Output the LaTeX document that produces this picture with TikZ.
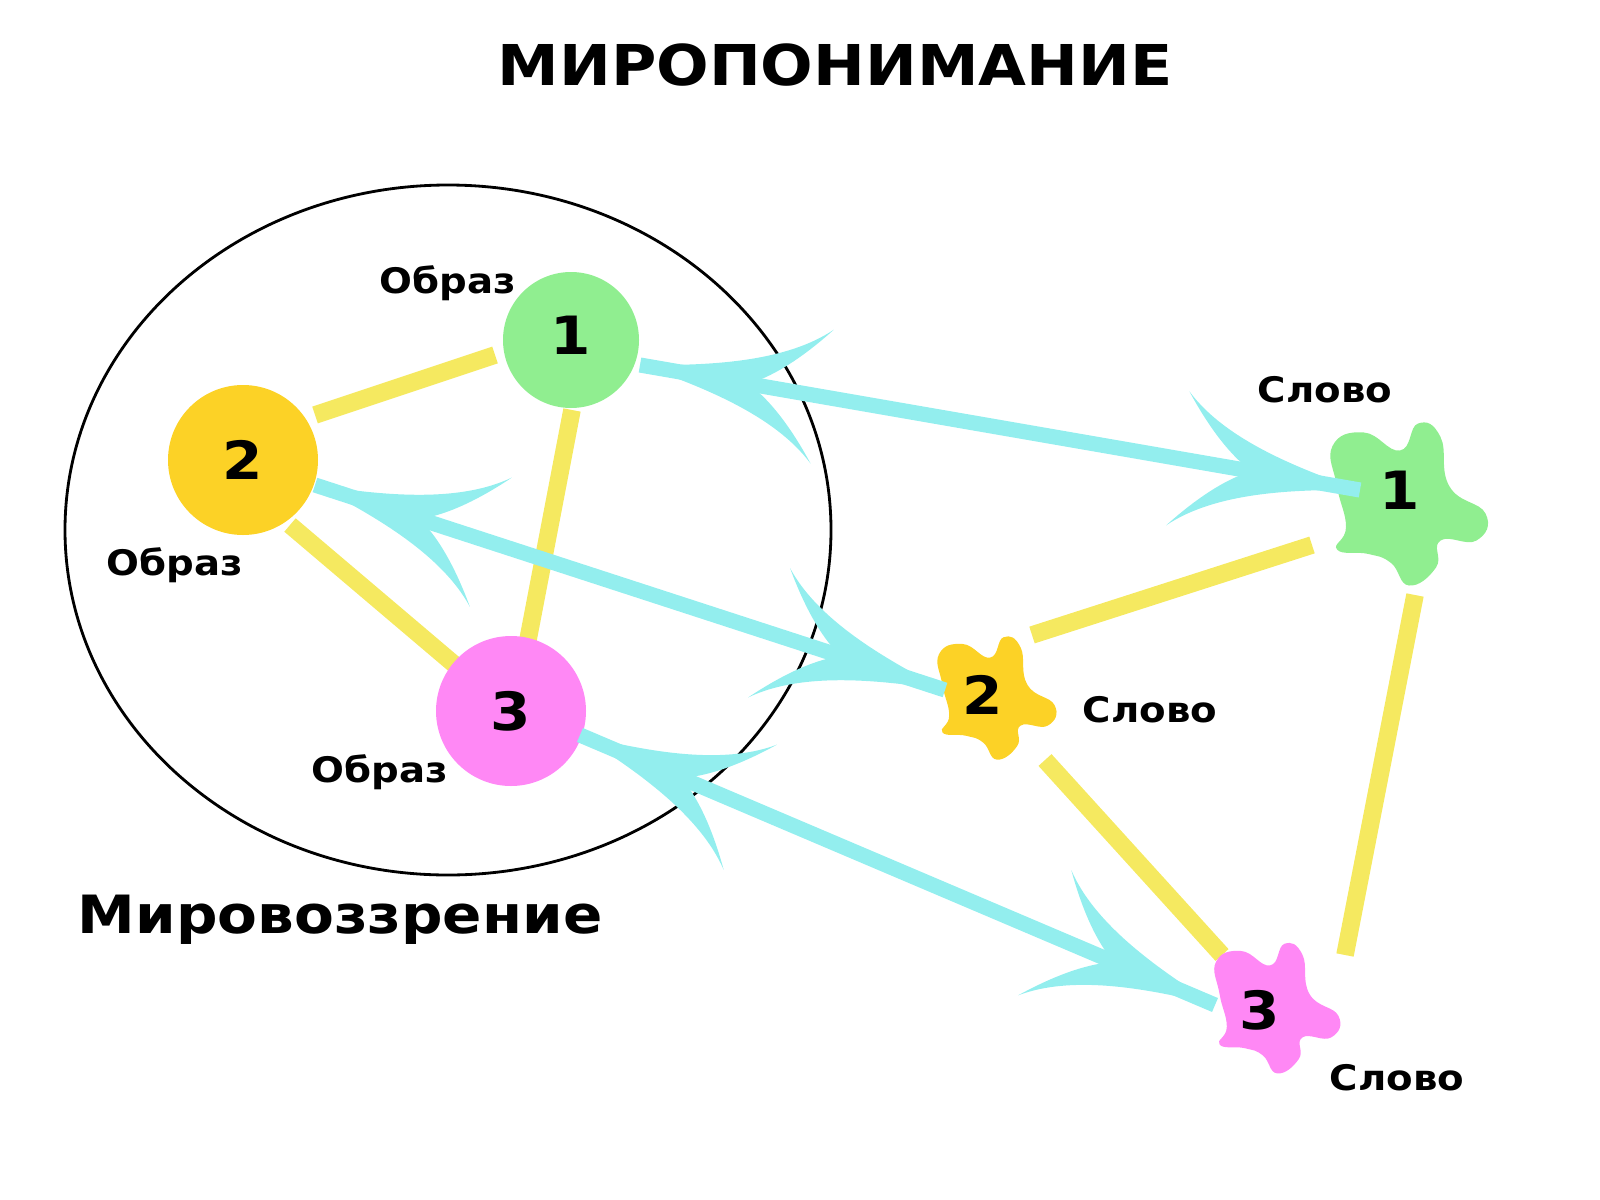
\documentclass[tikz,border=0pt]{standalone}
\usepackage{fontspec}
\setmainfont{DejaVu Sans}[FakeStretch=1.1]
\definecolor{cg}{HTML}{90EE90}
\definecolor{cy}{HTML}{FCD226}
\definecolor{cp}{HTML}{FF88F5}
\definecolor{bar}{HTML}{F5E960}
\definecolor{cyan}{HTML}{93EEEE}
\tikzset{
 bar/.style={draw=bar,line width=5pt},
 shaft/.style={draw=cyan,line width=4.3pt},
 lbl/.style={font=\bfseries\fontsize{10}{12}\selectfont},
 num/.style={font=\bfseries\fontsize{15}{17}\selectfont},
}
\newcommand{\cyhead}[2]{\begin{scope}[shift={(#1)},rotate=#2]
\fill[cyan] (0,0) .. controls (-60,10) and (-140,25) .. (-185,68)
 .. controls (-155,30) and (-130,10) .. (-110,0)
 .. controls (-130,-10) and (-155,-30) .. (-185,-68)
 .. controls (-140,-25) and (-60,-10) .. cycle;
\end{scope}}
\newcommand{\myblob}[3]{\fill[#3,shift={(#1)},scale=#2] plot[smooth cycle,tension=0.8] coordinates
{(0.1,0.95)(0.4,0.75)(0.45,0.45)(0.85,0.45)(0.95,0.15)(0.55,-0.15)(0.45,-0.7)(0.2,-0.85)(0,-0.55)(-0.4,-0.75)(-0.75,-0.6)(-0.7,-0.15)(-0.6,0.3)(-0.7,0.55)(-0.35,0.6)(-0.1,0.7)};}
\begin{document}
\begin{tikzpicture}[x=0.01cm,y=-0.01cm]
\useasboundingbox (0,0) rectangle (1600,1200);
\node[font=\bfseries\fontsize{16}{18}\selectfont] (title) at (835,65) {МИРОПОНИМАНИЕ};
\draw[line width=0.8pt] (448,530) ellipse [x radius=383,y radius=345];
\node[font=\bfseries\fontsize{15}{17}\selectfont] (mv) at (340,920) {Мировоззрение};
% bars
\draw[bar] (315,415) -- (495,355);
\draw[bar] (572,410) -- (527,645);
\draw[bar] (290,525) -- (455,665);
\draw[bar] (1032,635) -- (1312,545);
\draw[bar] (1045,760) -- (1222,955);
\draw[bar] (1415,595) -- (1345,955);
% circles
\fill[cg] (571,340) circle (68);
\fill[cy] (243,460) circle (75);
\fill[cp] (511,711) circle (75);
\node[num] (o1) at (571,335) {1};
\node[num] (o2) at (243,460) {2};
\node[num] (o3) at (511,711) {3};
% blobs
\myblob{1400,500}{90}{cg}
\myblob{990,695}{68}{cy}
\myblob{1270,1005}{72}{cp}
\node[num] (w1) at (1400,490) {1};
\node[num] (w2) at (983,695) {2};
\node[num] (w3) at (1260,1010) {3};
% arrows
\coordinate (a1) at (640,365); \coordinate (b1) at (1360,490);
\coordinate (a2) at (315,485); \coordinate (b2) at (945,690);
\coordinate (a3) at (580,735); \coordinate (b3) at (1215,1005);
\draw[shaft] (a1) -- (b1);
\draw[shaft] (a2) -- (b2);
\draw[shaft] (a3) -- (b3);
\cyhead{a1}{170.15}\cyhead{b1}{-9.85}
\cyhead{a2}{162}\cyhead{b2}{-18}
\cyhead{a3}{157}\cyhead{b3}{-23}
% labels
\node[lbl] (l1) at (448,283) {Образ};
\node[lbl] (l2) at (175,565) {Образ};
\node[lbl] (l3) at (380,772) {Образ};
\node[lbl] (s1) at (1325,390) {Слово};
\node[lbl] (s2) at (1150,710) {Слово};
\node[lbl] (s3) at (1397,1078) {Слово};
\end{tikzpicture}
\end{document}
